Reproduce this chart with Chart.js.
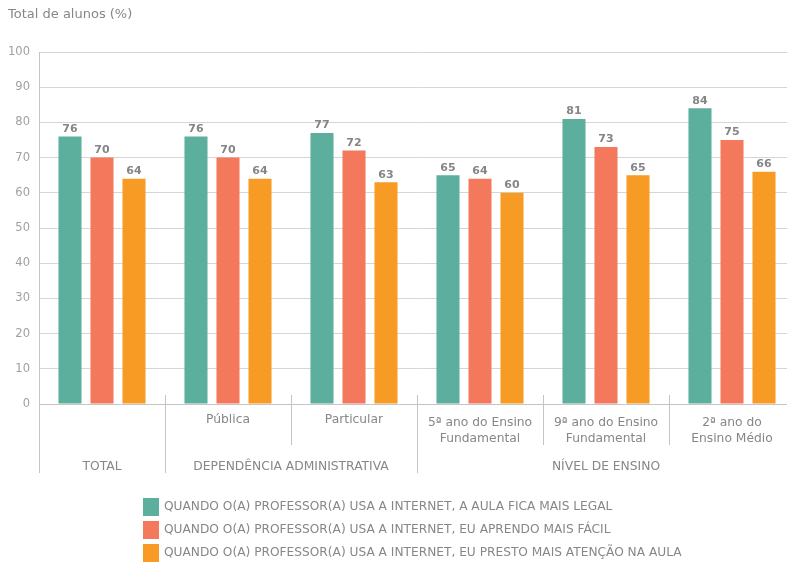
<!DOCTYPE html>
<html>
<head>
<meta charset="utf-8">
<script src="https://cdn.jsdelivr.net/npm/chart.js@4/dist/chart.umd.min.js"></script>
<style>
  html, body { margin: 0; padding: 0; background: #fff; overflow: hidden; }
  #wrap { width: 800px; height: 562px; }
</style>
</head>
<body>
<div id="wrap"><canvas id="mycanvas" width="800" height="562"></canvas></div>
<script>
// data
var categories = ['', 'Pública', 'Particular', ['5ª ano do Ensino', 'Fundamental'], ['9ª ano do Ensino', 'Fundamental'], ['2ª ano do', 'Ensino Médio']];
var groupNames = ['TOTAL', 'DEPENDÊNCIA ADMINISTRATIVA', 'NÍVEL DE ENSINO'];
var groupSizes = [1, 2, 3];
var yTicks = [0, 10, 20, 30, 40, 50, 60, 70, 80, 90, 100];
var axisTitle = 'Total de alunos (%)';

var seriesNames = [
	'QUANDO O(A) PROFESSOR(A) USA A INTERNET, A AULA FICA MAIS LEGAL',
	'QUANDO O(A) PROFESSOR(A) USA A INTERNET, EU APRENDO MAIS FÁCIL',
	'QUANDO O(A) PROFESSOR(A) USA A INTERNET, EU PRESTO MAIS ATENÇÃO NA AULA'
];
var aulaLegal = [76, 76, 77, 65, 81, 84];
var aprendoFacil = [70, 70, 72, 64, 73, 75];
var prestoAtencao = [64, 64, 63, 60, 65, 66];

var colors = ['#5BAF9C', '#F3785C', '#F79B25'];
var textGray = '#878787';
var lineGray = '#c4c4c4';
var fontFam = '"DejaVu Sans", Verdana, sans-serif';

var extras = {
	id: 'extras',
	afterDatasetsDraw: function(chart) {
		var ctx = chart.ctx;
		ctx.save();
		ctx.font = 'bold 11px ' + fontFam;
		ctx.fillStyle = '#858585';
		ctx.textAlign = 'center';
		ctx.textBaseline = 'bottom';
		chart.data.datasets.forEach(function(ds, di) {
			chart.getDatasetMeta(di).data.forEach(function(bar, i) {
				ctx.fillText(ds.data[i], bar.x, bar.y - 2);
			});
		});
		ctx.restore();
	},
	afterDraw: function(chart) {
		var ctx = chart.ctx;
		var x = chart.scales.x;
		var area = chart.chartArea;
		var step = x.getPixelForValue(1) - x.getPixelForValue(0);
		ctx.save();

		// axis title
		ctx.font = '13px ' + fontFam;
		ctx.fillStyle = textGray;
		ctx.textAlign = 'left';
		ctx.textBaseline = 'middle';
		ctx.fillText(axisTitle, 8, 15);

		// separators
		ctx.strokeStyle = lineGray;
		ctx.lineWidth = 1;
		var ends = [];
		var acc = 0;
		groupSizes.forEach(function(n) { acc += n; ends.push(acc - 1); });
		ctx.beginPath();
		ctx.moveTo(Math.round(area.left) + 0.5, area.bottom);
		ctx.lineTo(Math.round(area.left) + 0.5, area.bottom + 69);
		for (var i = 0; i < categories.length - 1; i++) {
			var sx = Math.round(x.getPixelForValue(i) + step / 2) + 0.5;
			var long = ends.indexOf(i) >= 0;
			ctx.moveTo(sx, area.bottom - 9);
			ctx.lineTo(sx, area.bottom + (long ? 69 : 41));
		}
		ctx.stroke();

		// category labels
		ctx.font = '12.3px ' + fontFam;
		ctx.fillStyle = textGray;
		ctx.textAlign = 'center';
		categories.forEach(function(lab, i) {
			var cx = x.getPixelForValue(i);
			if (Array.isArray(lab)) {
				ctx.fillText(lab[0], cx, area.bottom + 19);
				ctx.fillText(lab[1], cx, area.bottom + 35);
			} else if (lab) {
				ctx.fillText(lab, cx, area.bottom + 16);
			}
		});
		var start = 0;
		groupNames.forEach(function(g, gi) {
			var a = start, b = start + groupSizes[gi] - 1;
			var cx = (x.getPixelForValue(a) + x.getPixelForValue(b)) / 2;
			ctx.fillText(g, cx, area.bottom + 63);
			start += groupSizes[gi];
		});

		// legend
		ctx.textAlign = 'left';
		ctx.font = '12.2px ' + fontFam;
		chart.data.datasets.forEach(function(ds, di) {
			var ly = 498 + di * 23;
			ctx.fillStyle = ds.backgroundColor;
			ctx.fillRect(143, ly, 16, 18);
			ctx.fillStyle = textGray;
			ctx.fillText(ds.label, 164, ly + 9);
		});
		ctx.restore();
	}
};

var ctx = document.getElementById('mycanvas');
var chart = new Chart(ctx, {
	type: 'bar',
	data: {
		labels: categories,
		datasets: [
			{ label: seriesNames[0], data: aulaLegal, backgroundColor: colors[0] },
			{ label: seriesNames[1], data: aprendoFacil, backgroundColor: colors[1] },
			{ label: seriesNames[2], data: prestoAtencao, backgroundColor: colors[2] }
		]
	},
	options: {
		responsive: false,
		animation: false,
		categoryPercentage: 0.762,
		barPercentage: 0.72,
		layout: { padding: { top: 52, right: 5, left: 0, bottom: 0 } },
		plugins: {
			legend: { display: false },
			tooltip: { enabled: false }
		},
		scales: {
			x: {
				ticks: { display: false },
				grid: { display: false, drawTicks: false },
				border: { display: true, color: '#c4c4c4' },
				afterFit: function(s) { s.height = 158; }
			},
			y: {
				min: 0,
				max: 100,
				afterBuildTicks: function(s) { s.ticks = yTicks.map(function(v) { return { value: v }; }); },
				ticks: { color: '#a0a0a0', font: { size: 11.5, family: fontFam }, padding: 9 },
				grid: { color: '#d6d6d6', drawTicks: false },
				border: { display: true, color: '#c4c4c4' },
				afterFit: function(s) { s.width = 39; }
			}
		}
	},
	plugins: [extras]
});
</script>
</body>
</html>
